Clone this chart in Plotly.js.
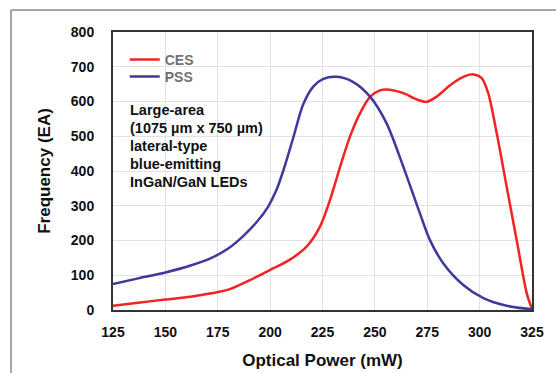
<!DOCTYPE html>
<html>
<head>
<meta charset="utf-8">
<script src="https://cdn.plot.ly/plotly-3.0.1.min.js"></script>
<style>html,body{margin:0;padding:0;background:#fff;}#chart{width:556px;height:373px;}</style>
</head>
<body>
<div id="chart"></div>
<script>
// Optical power (mW) sample points and frequency (EA)
const pssPower = [125, 137, 150, 162, 172, 180, 187, 194, 199, 203, 206.5, 211, 215.8, 220.6, 225.4, 231.8, 239.7, 247.7, 255.6, 263.6, 271.5, 276.3, 282.7, 292.2, 301.8, 312.9, 325];
const pssFreq  = [75, 91, 108, 128, 150, 177, 212, 256, 297, 345, 405, 495, 592, 643, 665, 671, 656, 614, 537, 412, 278, 201, 134, 72, 34, 12, 2];

const cesPower = [125, 137, 150, 162, 172, 180.8, 190.4, 199.9, 209.5, 217.5, 223.8, 228.6, 233.4, 238.1, 242.9, 247.7, 252.4, 257.2, 263.6, 270, 274.7, 279.5, 285.9, 292.2, 297, 301, 304.1, 308.2, 312.9, 317.7, 322.5, 325];
const cesFreq  = [12, 21, 30, 38, 48, 60, 86, 115, 145, 183, 240, 317, 412, 499, 566, 613, 632, 634, 624, 606, 599, 614, 647, 671, 678, 667, 624, 508, 355, 201, 48, 3];

const xTicks = [125, 150, 175, 200, 225, 250, 275, 300, 325];
const yTicks = [0, 100, 200, 300, 400, 500, 600, 700, 800];

const noteLines = ["Large-area", "(1075 µm x 750 µm)", "lateral-type", "blue-emitting", "InGaN/GaN LEDs"];

const FONT = "Liberation Sans, Arial, Helvetica, sans-serif";
const legendFont = {family: FONT, size: 14, color: "#727272", weight: "bold"};

const traces = [
  {x: cesPower, y: cesFreq, name: "CES", legend: "legend", mode: "lines", line: {color: "#f22323", width: 2.5, shape: "spline", smoothing: 0.8}},
  {x: pssPower, y: pssFreq, name: "PSS", legend: "legend2", mode: "lines", line: {color: "#3d3a9c", width: 2.5, shape: "spline", smoothing: 0.8}}
];

const noteTop = 0.7194, noteStep = 0.0647;
const notes = noteLines.map((t, i) => ({
  xref: "paper", yref: "paper", x: 0.035, y: noteTop - i * noteStep, xanchor: "left", yanchor: "middle", align: "left",
  showarrow: false, text: t, font: {family: FONT, size: 14.5, weight: "bold", color: "#111"}
}));

const layout = {
  width: 556, height: 373,
  margin: {l: 113, r: 24, t: 32, b: 63},
  paper_bgcolor: "#ffffff", plot_bgcolor: "#ffffff",
  font: {family: FONT, color: "#000"},
  showlegend: true,
  legend: {x: 0.028, y: 0.957, xanchor: "left", yanchor: "top", bgcolor: "rgba(0,0,0,0)", font: legendFont, itemwidth: 30},
  legend2: {x: 0.028, y: 0.896, xanchor: "left", yanchor: "top", bgcolor: "rgba(0,0,0,0)", font: legendFont, itemwidth: 30},
  xaxis: {
    range: [125, 325], tickvals: xTicks, ticktext: xTicks.map(String),
    showgrid: true, gridcolor: "#e2e2e2", gridwidth: 1,
    showline: true, mirror: true, linecolor: "#333", linewidth: 2,
    ticks: "outside", ticklen: 8, tickcolor: "rgba(0,0,0,0)",
    tickfont: {family: FONT, size: 14, weight: "bold", color: "#111"},
    zeroline: false,
    title: {text: "Optical Power (mW)", standoff: 15, font: {family: FONT, size: 17, weight: "bold", color: "#111"}}
  },
  yaxis: {
    range: [0, 800], tickvals: yTicks, ticktext: yTicks.map(String),
    showgrid: true, gridcolor: "#e2e2e2", gridwidth: 1,
    showline: true, mirror: true, linecolor: "#333", linewidth: 2,
    ticks: "outside", ticklen: 14, tickcolor: "rgba(0,0,0,0)",
    tickfont: {family: FONT, size: 14, weight: "bold", color: "#111"},
    zeroline: false,
    title: {text: "Frequency (EA)", standoff: 16, font: {family: FONT, size: 17, weight: "bold", color: "#111"}}
  },
  annotations: notes,
  shapes: [
    {type: "line", xref: "paper", yref: "paper", x0: -0.2434, x1: -0.2434, y0: -0.24, y1: 1.0791, line: {color: "#8a8a8a", width: 1.5}},
    {type: "line", xref: "paper", yref: "paper", x0: -0.2434, x1: 1.07, y0: 1.0791, y1: 1.0791, line: {color: "#8a8a8a", width: 1.5}}
  ]
};

Plotly.newPlot("chart", traces, layout, {staticPlot: true, displayModeBar: false});
</script>
</body>
</html>
